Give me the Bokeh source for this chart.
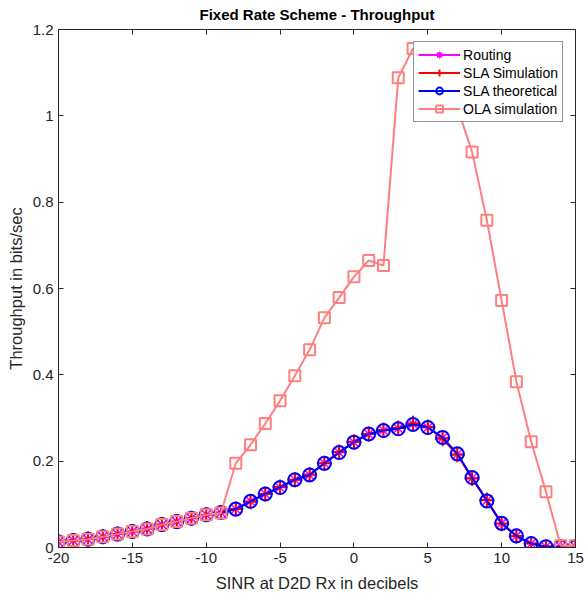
from bokeh.plotting import figure
from bokeh.models import (LinearAxis, FixedTicker, CustomJSTickFormatter, Legend,
                          LegendItem, Range1d)
from bokeh.embed import file_html
from bokeh.resources import INLINE

# ---- data ----
sinr_db = list(range(-20, 16))

sla_theory = [0.013, 0.016, 0.019, 0.025, 0.031, 0.037, 0.043, 0.053, 0.060, 0.068,
              0.076, 0.081, 0.089, 0.107, 0.124, 0.139, 0.157, 0.168, 0.195, 0.220,
              0.244, 0.263, 0.271, 0.275, 0.285, 0.278, 0.255, 0.217, 0.162, 0.108,
              0.056, 0.027, 0.009, 0.002, 0.002, 0.002]
sla_sim = [0.013, 0.016, 0.020, 0.025, 0.031, 0.037, 0.044, 0.053, 0.060, 0.068,
           0.076, 0.081, 0.089, 0.106, 0.124, 0.140, 0.157, 0.169, 0.195, 0.221,
           0.245, 0.263, 0.272, 0.277, 0.288, 0.279, 0.252, 0.215, 0.160, 0.110,
           0.055, 0.026, 0.009, 0.002, 0.002, 0.002]
routing = [0.013, 0.016, 0.019, 0.025, 0.031, 0.037, 0.043, 0.053, 0.060, 0.068,
           0.076, 0.081, 0.089, 0.107, 0.124, 0.139, 0.157, 0.168, 0.195, 0.220,
           0.244, 0.263, 0.271, 0.276, 0.286, 0.278, 0.254, 0.216, 0.161, 0.109,
           0.056, 0.027, 0.009, 0.002, 0.002, 0.002]
ola_sim = [0.013, 0.016, 0.019, 0.025, 0.031, 0.037, 0.043, 0.053, 0.060, 0.068,
           0.076, 0.080, 0.195, 0.238, 0.287, 0.340, 0.398, 0.458, 0.532, 0.579,
           0.627, 0.665, 0.653, 1.088, 1.156, 1.140, 1.100, 1.020, 0.916, 0.758,
           0.572, 0.384, 0.245, 0.129, 0.004, 0.004]

x_ticks = [-20, -15, -10, -5, 0, 5, 10, 15]
y_ticks = [0, 0.2, 0.4, 0.6, 0.8, 1.0, 1.2]

FONT = "Liberation Sans"
AX = "#262626"

p = figure(width=586, height=595, output_backend="svg", toolbar_location=None,
           x_range=Range1d(-20, 15), y_range=Range1d(0, 1.2),
           min_border_left=58, min_border_right=11, min_border_top=29,
           min_border_bottom=48, title="Fixed Rate Scheme - Throughput")
p.grid.visible = False
p.outline_line_color = None
p.background_fill_color = "white"

p.title.text_font = FONT
p.title.text_font_size = "15px"
p.title.text_font_style = "bold"
p.title.align = "center"
p.title.vertical_align = "top"
p.title.text_color = "#000000"
p.title.standoff = 10
p.title.offset = 0

fmt = CustomJSTickFormatter(code="return String(Math.round(tick*10)/10);")
blank = CustomJSTickFormatter(code="return '';")

for ax, ticks in ((p.xaxis[0], x_ticks), (p.yaxis[0], y_ticks)):
    ax.ticker = FixedTicker(ticks=ticks)
    ax.formatter = fmt
    ax.major_tick_in = 5
    ax.major_tick_out = 0
    ax.minor_tick_in = 0
    ax.minor_tick_out = 0
    ax.axis_line_color = AX
    ax.major_tick_line_color = AX
    ax.major_label_text_font = FONT
    ax.major_label_text_font_size = "15px"
    ax.major_label_text_color = AX
    ax.major_label_standoff = 5
    ax.axis_label_text_font = FONT
    ax.axis_label_text_font_size = "16.5px"
    ax.axis_label_text_font_style = "normal"
    ax.axis_label_text_color = AX

p.xaxis.axis_label_standoff = 8
p.yaxis.axis_label_standoff = 5
p.xaxis.axis_label = "SINR at D2D Rx in decibels"
p.yaxis.axis_label = "Throughput in bits/sec"

for loc, ticks in (("above", x_ticks), ("right", y_ticks)):
    ax = LinearAxis(ticker=FixedTicker(ticks=ticks), formatter=blank,
                    major_label_standoff=0,
                    major_tick_in=5, major_tick_out=0, minor_tick_in=0, minor_tick_out=0,
                    axis_line_color=AX, major_tick_line_color=AX)
    p.add_layout(ax, loc)

# ---- series ----
r_l = p.line(sinr_db, routing, line_color="#FF00FF", line_width=2)
r_m = p.scatter(sinr_db, routing, marker="asterisk", size=14, line_color="#FF00FF",
                line_width=1.5, fill_color=None)
s_l = p.line(sinr_db, sla_sim, line_color="#FF0000", line_width=2)
s_m = p.scatter(sinr_db, sla_sim, marker="cross", size=15, line_color="#FF0000",
                line_width=2, fill_color=None)
t_l = p.line(sinr_db, sla_theory, line_color="#0000FF", line_width=2)
t_m = p.scatter(sinr_db, sla_theory, marker="circle", size=13, line_color="#0000FF",
                line_width=2, fill_color=None)
o_l = p.line(sinr_db, ola_sim, line_color="#FF7F7F", line_width=2)
o_m = p.scatter(sinr_db, ola_sim, marker="square", size=11, line_color="#FF7F7F",
                line_width=2, fill_color=None)

legend = Legend(items=[
    LegendItem(label="Routing", renderers=[r_l, r_m]),
    LegendItem(label="SLA Simulation", renderers=[s_l, s_m]),
    LegendItem(label="SLA theoretical", renderers=[t_l, t_m]),
    LegendItem(label="OLA simulation", renderers=[o_l, o_m]),
], location="top_right", margin=12, padding=4, spacing=1,
    glyph_width=42, glyph_height=17, label_height=17, label_standoff=3,
    label_text_font=FONT, label_text_font_size="14px", label_text_color="#000000",
    border_line_color=AX, border_line_width=1, background_fill_color="white",
    background_fill_alpha=1.0)
p.add_layout(legend)

open("out.html", "w").write(file_html(p, INLINE))
